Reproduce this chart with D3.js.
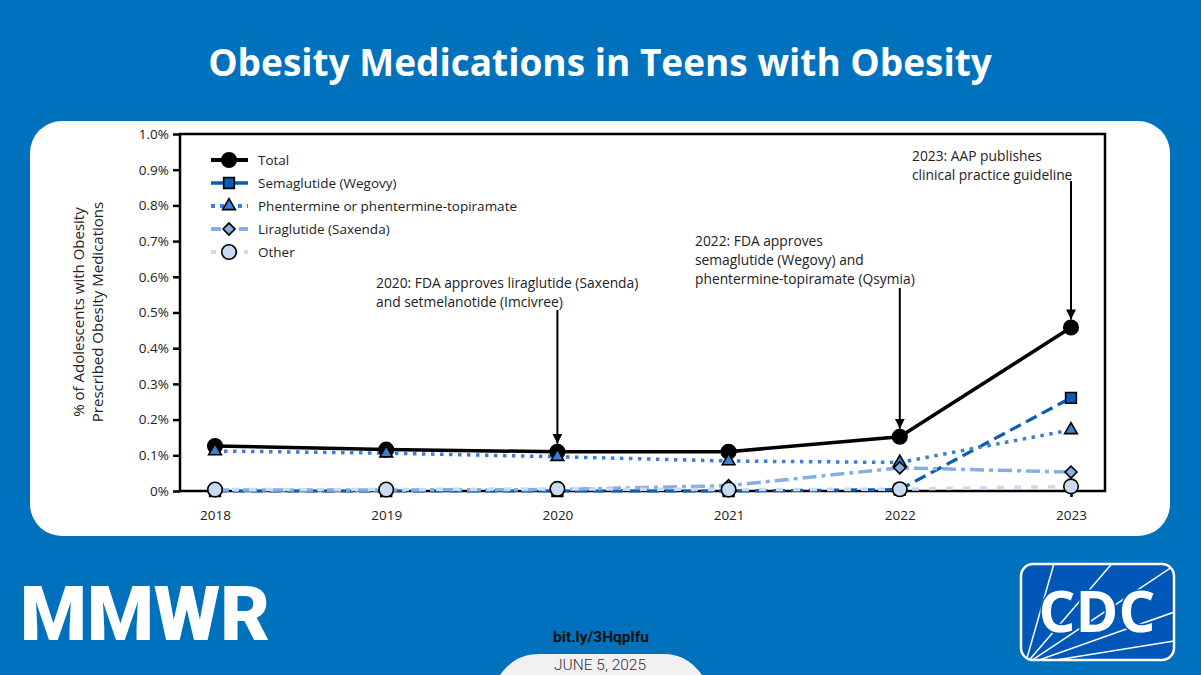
<!DOCTYPE html>
<html>
<head>
<meta charset="utf-8">
<script src="https://cdn.jsdelivr.net/npm/d3@7"></script>
<style>
  html, body { margin: 0; padding: 0; background: #0071bc; }
  svg { display: block; }
</style>
</head>
<body>
<svg id="chart" width="1201" height="675"></svg>
<script>
// ---------------- DATA ----------------
const years = [2018, 2019, 2020, 2021, 2022, 2023];
const totalValues        = [0.126, 0.116, 0.110, 0.110, 0.152, 0.458];
const semaglutideValues  = [0.000, 0.000, 0.000, 0.000, 0.004, 0.261];
const phentermineValues  = [0.112, 0.106, 0.096, 0.084, 0.080, 0.171];
const liraglutideValues  = [0.003, 0.003, 0.004, 0.015, 0.065, 0.053];
const otherValues        = [0.004, 0.004, 0.006, 0.004, 0.005, 0.013];
const seriesNames = ["Total", "Semaglutide (Wegovy)", "Phentermine or phentermine-topiramate", "Liraglutide (Saxenda)", "Other"];
const yTickValues = [0, 0.1, 0.2, 0.3, 0.4, 0.5, 0.6, 0.7, 0.8, 0.9, 1.0];
const yTickLabels = ["0%", "0.1%", "0.2%", "0.3%", "0.4%", "0.5%", "0.6%", "0.7%", "0.8%", "0.9%", "1.0%"];
const annotationYears = [2020, 2022, 2023];
const annotationTexts = [
  ["2020: FDA approves liraglutide (Saxenda)", "and setmelanotide (Imcivree)"],
  ["2022: FDA approves", "semaglutide (Wegovy) and", "phentermine-topiramate (Qsymia)"],
  ["2023: AAP publishes", "clinical practice guideline"]
];

// ---------------- STYLES ----------------
const styles = [
  { color: "#000000", fill: "#000000", width: 3.5, dash: null, legendDash: null, shape: d3.symbolCircle, size: 165, rot: 0 },
  { color: "#0b5cb5", fill: "#0b5cb5", width: 3.2, dash: "12,6", legendDash: null, shape: d3.symbolSquare, size: 115, rot: 0 },
  { color: "#3b7fd2", fill: "#3b7fd2", width: 3.5, dash: "3.5,5.5", legendDash: "4,5", shape: d3.symbolTriangle, size: 70, rot: 0 },
  { color: "#86aee2", fill: "#86aee2", width: 3.5, dash: "14,5,4,5", legendDash: "10,4", shape: d3.symbolSquare, size: 72, rot: 45 },
  { color: "#c8dbf1", fill: "#c8dbf1", width: 3.5, dash: "7,10", legendDash: "5,6", shape: d3.symbolCircle, size: 165, rot: 0 }
];
const allValues = [totalValues, semaglutideValues, phentermineValues, liraglutideValues, otherValues];

const svg = d3.select("#chart");
const font = "'Open Sans', 'Noto Sans', sans-serif";

// background
svg.append("rect").attr("width", 1201).attr("height", 675).attr("fill", "#0071bc");

// title
svg.append("text").attr("x", 600).attr("y", 76).attr("text-anchor", "middle")
  .attr("fill", "#fff").attr("font-family", font).attr("font-weight", 700)
  .attr("font-size", 37).text("Obesity Medications in Teens with Obesity");

// white panel
svg.append("rect").attr("x", 30).attr("y", 121).attr("width", 1140).attr("height", 415)
  .attr("rx", 32).attr("ry", 32).attr("fill", "#fff");

// ---------------- CHART ----------------
const plot = { left: 180, right: 1105, top: 134, bottom: 491 };
const x = d3.scalePoint().domain(years).range([215, 1071]);
const y = d3.scaleLinear().domain([0, 1.0]).range([plot.bottom, plot.top]);

const g = svg.append("g");

// frame
g.append("rect").attr("x", plot.left).attr("y", plot.top)
  .attr("width", plot.right - plot.left).attr("height", plot.bottom - plot.top)
  .attr("fill", "none").attr("stroke", "#000").attr("stroke-width", 2.5);

// y axis
const yAxis = d3.axisLeft(y).tickValues(yTickValues)
  .tickFormat((d, i) => yTickLabels[i]).tickSize(7).tickPadding(4);
const yg = g.append("g").attr("transform", `translate(${plot.left},0)`).call(yAxis);
yg.select(".domain").remove();
yg.selectAll(".tick line").attr("stroke", "#000").attr("stroke-width", 2.5);
yg.selectAll(".tick text").attr("font-family", font).attr("font-size", 13.5).attr("fill", "#222");

// x axis
const xAxis = d3.axisBottom(x).tickSize(6).tickPadding(13);
const xg = g.append("g").attr("transform", `translate(0,${plot.bottom})`).call(xAxis);
xg.select(".domain").remove();
xg.selectAll(".tick line").attr("stroke", "#000").attr("stroke-width", 2.5);
xg.selectAll(".tick text").attr("font-family", font).attr("font-size", 13.5).attr("fill", "#222");

// y label
const ylab = svg.append("text").attr("transform", "translate(84,312) rotate(-90)")
  .attr("text-anchor", "middle").attr("font-family", font).attr("font-size", 15).attr("fill", "#222");
ylab.append("tspan").attr("x", 0).attr("dy", 0).text("% of Adolescents with Obesity");
ylab.append("tspan").attr("x", 0).attr("dy", 19).text("Prescribed Obesity Medications");

// lines
const line = d3.line().x((d, i) => x(years[i])).y(d => y(d));
allValues.forEach((vals, si) => {
  const s = styles[si];
  g.append("path").datum(vals).attr("d", line).attr("fill", "none")
    .attr("stroke", s.color).attr("stroke-width", s.width)
    .attr("stroke-dasharray", s.dash);
});
// markers
allValues.forEach((vals, si) => {
  const s = styles[si];
  g.selectAll(null).data(vals).enter().append("path")
    .attr("d", d3.symbol().type(s.shape).size(s.size))
    .attr("transform", (d, i) => `translate(${x(years[i])},${y(d)}) rotate(${s.rot})`)
    .attr("fill", s.fill).attr("stroke", "#000").attr("stroke-width", 1.6);
});

// ---------------- LEGEND ----------------
const legend = svg.append("g");
seriesNames.forEach((name, i) => {
  const s = styles[i];
  const ly = 160 + i * 23;
  legend.append("line").attr("x1", 211).attr("x2", 248).attr("y1", ly).attr("y2", ly)
    .attr("stroke", s.color).attr("stroke-width", s.width + 0.5)
    .attr("stroke-dasharray", s.legendDash);
  legend.append("path").attr("d", d3.symbol().type(s.shape).size(s.size))
    .attr("transform", `translate(229,${ly}) rotate(${s.rot})`)
    .attr("fill", s.fill).attr("stroke", "#000").attr("stroke-width", 1.6);
  legend.append("text").attr("x", 258).attr("y", ly + 5).attr("font-family", font)
    .attr("font-size", 13.5).attr("fill", "#222").text(name);
});

// ---------------- ANNOTATIONS ----------------
const annTextPos = [[376, 288], [695, 246], [912, 161]];
const annArrowTop = [310, 288, 181];
svg.append("defs").append("marker").attr("id", "arrow").attr("viewBox", "0 0 10 10")
  .attr("refX", 10).attr("refY", 5).attr("markerWidth", 10).attr("markerHeight", 14)
  .attr("markerUnits", "userSpaceOnUse").attr("orient", "auto")
  .append("path").attr("d", "M0,0 L10,5 L0,10 Z").attr("fill", "#000");
annotationYears.forEach((yr, k) => {
  const t = svg.append("text").attr("font-family", font).attr("font-size", 13.8).attr("fill", "#222");
  annotationTexts[k].forEach((ln, j) => {
    t.append("tspan").attr("x", annTextPos[k][0]).attr("y", annTextPos[k][1] + j * 19).text(ln);
  });
  const idx = years.indexOf(yr);
  const px = x(yr), py = y(totalValues[idx]) - 8;
  svg.append("line").attr("x1", px).attr("x2", px).attr("y1", annArrowTop[k]).attr("y2", py)
    .attr("stroke", "#000").attr("stroke-width", 2).attr("marker-end", "url(#arrow)");
});

// ---------------- FOOTER ----------------
svg.append("text").attr("x", 20).attr("y", 640).attr("fill", "#fff")
  .attr("font-family", "Roboto, 'Liberation Sans', sans-serif").attr("font-weight", 900)
  .attr("font-size", 76).attr("textLength", 250)
  .attr("lengthAdjust", "spacingAndGlyphs").text("MMWR");

svg.append("text").attr("x", 601).attr("y", 642).attr("text-anchor", "middle")
  .attr("fill", "#111").attr("font-family", "Roboto, sans-serif").attr("font-weight", 700)
  .attr("font-size", 15.5).text("bit.ly/3Hqplfu");

svg.append("path")
  .attr("d", "M500,675 C510,662 520,654 540,654 L662,654 C682,654 692,662 702,675 Z")
  .attr("fill", "#f1f1f1");
svg.append("text").attr("x", 600).attr("y", 670).attr("text-anchor", "middle")
  .attr("fill", "#333").attr("font-family", "Roboto, sans-serif").attr("font-weight", 300)
  .attr("font-size", 15.5).text("JUNE 5, 2025");

// CDC logo
const cdc = svg.append("g");
cdc.append("clipPath").attr("id", "cdcclip").append("rect")
  .attr("x", 1021).attr("y", 564).attr("width", 153).attr("height", 96).attr("rx", 12);
cdc.append("rect").attr("x", 1021).attr("y", 564).attr("width", 153).attr("height", 96).attr("rx", 12)
  .attr("fill", "#0057b8");
const rays = cdc.append("g").attr("clip-path", "url(#cdcclip)");
[[1055, 560], [1115, 560], [1175, 565], [1180, 610], [1180, 640]].forEach(p => {
  rays.append("line").attr("x1", 1025).attr("y1", 665)
    .attr("x2", p[0]).attr("y2", p[1]).attr("stroke", "#fff").attr("stroke-width", 1.5);
});
cdc.append("rect").attr("x", 1021).attr("y", 564).attr("width", 153).attr("height", 96).attr("rx", 12)
  .attr("fill", "none").attr("stroke", "#fff").attr("stroke-width", 2.5);
cdc.append("text").attr("x", 1097).attr("y", 632).attr("text-anchor", "middle")
  .attr("fill", "#fff").attr("font-family", "'Open Sans', sans-serif").attr("font-weight", 700)
  .attr("font-size", 58).attr("stroke", "#0057b8").attr("stroke-width", 3).attr("paint-order", "stroke")
  .text("CDC");
</script>
</body>
</html>
